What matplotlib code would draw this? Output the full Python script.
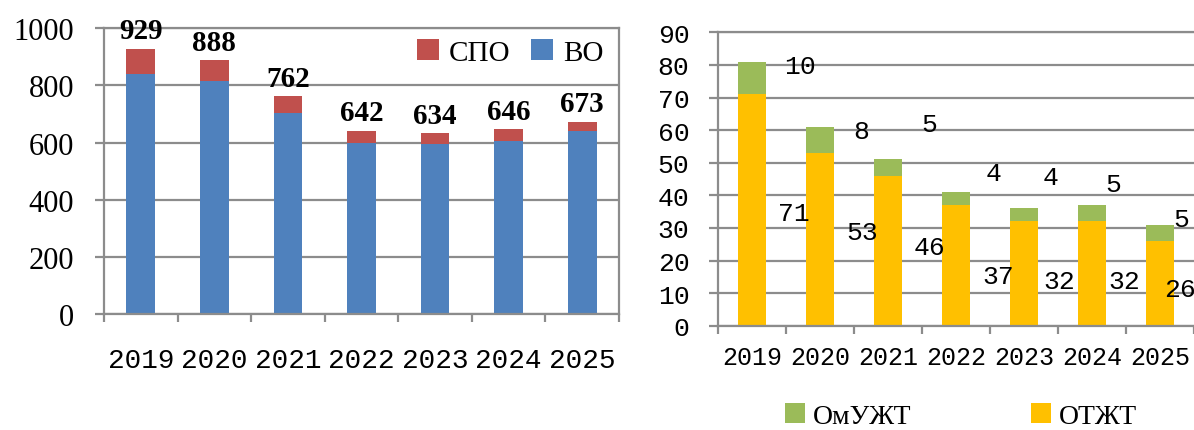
import matplotlib.pyplot as plt
import numpy as np

years = ["2019", "2020", "2021", "2022", "2023", "2024", "2025"]

# left chart: students by level
vo = [839, 816, 705, 598, 594, 604, 640]
spo = [90, 72, 57, 44, 40, 42, 33]
totals = [929, 888, 762, 642, 634, 646, 673]

# right chart: by college
otzht = [71, 53, 46, 37, 32, 32, 26]
omuzht = [10, 8, 5, 4, 4, 5, 5]

# manual label positions (data units), as placed in the source chart
otzht_lbl_x = [0.62, 1.62, 2.61, 3.62, 4.52, 5.48, 6.29]
otzht_lbl_y = [34.6, 28.7, 24.1, 15.1, 13.7, 13.7, 11.2]
omuzht_lbl_x = [0.70, 1.61, 2.60, 3.55, 4.39, 5.32, 6.32]
omuzht_lbl_y = [79.6, 59.6, 61.9, 47.0, 45.5, 43.5, 32.7]

BLUE = "#4F81BD"
RED = "#C0504D"
GREEN = "#9BBB59"
YELLOW = "#FFC000"
GRID = "#8C8C8C"

serif = ["Liberation Serif", "DejaVu Serif"]
mono = ["Liberation Mono", "DejaVu Sans Mono"]
plt.rcParams["font.family"] = serif

fig = plt.figure(figsize=(11.94, 4.31), dpi=100)
x = np.arange(len(years))


def style_axes(ax, ymax, step, ypad):
    ax.set_xlim(-0.5, len(years) - 0.5)
    ax.set_ylim(0, ymax)
    ax.set_yticks(np.arange(0, ymax + 1, step))
    ax.yaxis.grid(True, color=GRID, lw=1.6)
    ax.set_axisbelow(True)
    for s in ax.spines.values():
        s.set_color(GRID)
        s.set_linewidth(1.6)
    ax.set_xticks(np.arange(-0.5, len(years)), minor=False)
    ax.set_xticklabels([])
    ax.set_xticks(x, minor=True)
    ax.tick_params(axis="x", which="major", length=6, color=GRID, width=1.6)
    ax.tick_params(axis="x", which="minor", length=0, pad=24)
    ax.tick_params(axis="y", length=6.5, color=GRID, width=1.6, pad=ypad)


# ---- left chart
ax1 = fig.add_axes([0.0871, 0.2691, 0.4313, 0.663])
ax1.bar(x, vo, width=0.39, color=BLUE, label="ВО")
ax1.bar(x, spo, width=0.39, bottom=vo, color=RED, label="СПО")
style_axes(ax1, 1000, 200, 15)
ax1.set_xticklabels(years, minor=True, fontsize=20, family=mono)
for i, t in enumerate(totals):
    ax1.text(x[i], t + 62, str(t), ha="center", va="center",
             fontsize=21, fontweight="bold")
h, l = ax1.get_legend_handles_labels()
ax1.legend(h[::-1], l[::-1], loc="center right", ncol=2, frameon=False,
           prop={"size": 21}, handlelength=0.75,
           handleheight=0.75, handletextpad=0.35, columnspacing=0.7,
           borderaxespad=0, borderpad=0, bbox_to_anchor=(0.97, 0.915))

# ---- right chart
ax2 = fig.add_axes([0.6013, 0.242, 0.3987, 0.6806])
ax2.bar(x, otzht, width=0.40, color=YELLOW, label="ОТЖТ")
ax2.bar(x, omuzht, width=0.40, bottom=otzht, color=GREEN, label="ОмУЖТ")
style_axes(ax2, 90, 10, 14)
ax2.spines["right"].set_visible(False)
ax2.set_xticklabels(years, minor=True, fontsize=18, family=mono)
ax2.tick_params(axis="x", which="minor", pad=14)
for i in range(len(years)):
    ax2.text(otzht_lbl_x[i], otzht_lbl_y[i], str(otzht[i]), ha="center",
             va="center", fontsize=19, family=mono, clip_on=False)
    ax2.text(omuzht_lbl_x[i], omuzht_lbl_y[i], str(omuzht[i]), ha="center",
             va="center", fontsize=19, family=mono, clip_on=False)
h, l = ax2.get_legend_handles_labels()
fig.legend(h[::-1], l[::-1], loc="center", ncol=2, frameon=False,
           prop={"size": 20}, handlelength=0.7,
           handleheight=0.7, handletextpad=0.3, columnspacing=4.3,
           bbox_to_anchor=(0.805, 0.032))

for lbl in ax1.get_yticklabels():
    lbl.set_fontsize(22)
for lbl in ax2.get_yticklabels():
    lbl.set_fontfamily(mono)
    lbl.set_fontsize(19)

fig.savefig("out.png", dpi=100)
